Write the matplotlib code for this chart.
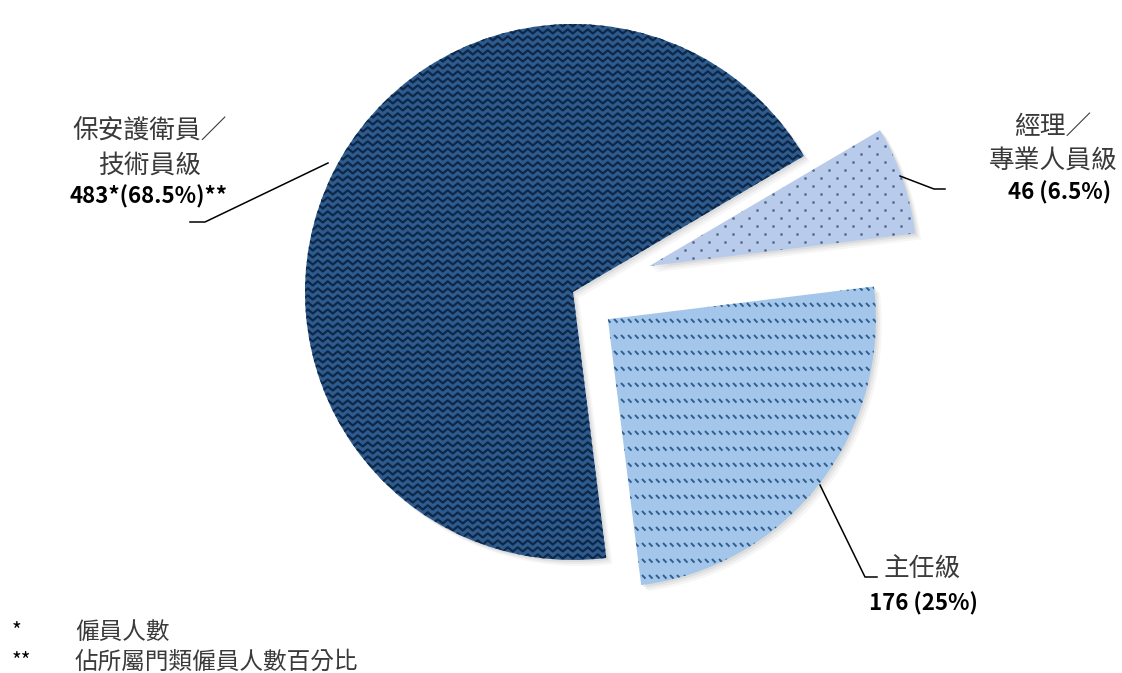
import numpy as np
import matplotlib
matplotlib.use('Agg')
from matplotlib import pyplot as plt
from matplotlib.collections import LineCollection

plt.rcParams['font.family'] = ['Noto Sans CJK TC', 'DejaVu Sans']

# data: staff by rank
categories = ['保安護衛員／\n技術員級', '主任級', '經理／\n專業人員級']
counts = [483, 176, 46]
value_labels = ['483*(68.5%)**', '176 (25%)', '46 (6.5%)']
notes_mark = ['*', '**']
notes_text = ['僱員人數', '佔所屬門類僱員人數百分比']

W, H = 1122, 673
R = 268.0            # pie radius in pixels
CX, CY = 573, 292    # pie centre in pixels (from top)


def px(x, y):
    # image pixel -> data coords
    return (x - CX) / R, (CY - y) / R


fig = plt.figure(figsize=(W / 100, H / 100), dpi=100)
ax = fig.add_axes([0, 0, 1, 1])

wedges, _ = ax.pie(counts, radius=1, startangle=30.5, counterclock=True,
                   explode=[0, 0.165, 0.30],
                   colors=['#2d5b8e', '#a3c6ea', '#b9cbea'],
                   wedgeprops=dict(linewidth=0))

# soft shadow under each slice
for w in wedges:
    for k, a in [(6, 0.05), (4, 0.07), (2, 0.09)]:
        sh = matplotlib.patches.Wedge((w.center[0] + k / R, w.center[1] - k / R),
                                      w.r, w.theta1, w.theta2,
                                      facecolor='#555555', alpha=a,
                                      linewidth=0, zorder=w.get_zorder() - 1)
        ax.add_patch(sh)

s = 1 / R
span = np.arange(-1.4, 1.4, 5 * s)

# zigzag texture on big slice
segs = []
for y0 in np.arange(-1.3, 1.3, 7 * s):
    ys = y0 + np.where(np.arange(len(span)) % 2 == 0, 2.1 * s, -2.1 * s)
    segs.append(np.column_stack([span, ys]))
lc = LineCollection(segs, colors='#0e2747', linewidths=1.6, zorder=3)
lc.set_clip_path(wedges[0])
ax.add_collection(lc)

# diagonal dashes on middle slice
dsegs = []
for y0 in np.arange(-1.6, 1.3, 16 * s):
    for x0 in np.arange(-0.5, 1.8, 7 * s):
        dsegs.append([(x0, y0 + 1.8 * s), (x0 + 3.5 * s, y0 - 1.8 * s)])
dc = LineCollection(dsegs, colors='#2f5f90', linewidths=1.4, zorder=3)
dc.set_clip_path(wedges[1])
ax.add_collection(dc)

# dots on small slice
gx, gy = [], []
for i, y0 in enumerate(np.arange(-0.5, 1.5, 8 * s)):
    off = 8 * s if i % 2 else 0
    for x0 in np.arange(0, 1.8, 16 * s):
        gx.append(x0 + off)
        gy.append(y0)
dots = ax.scatter(gx, gy, s=4, color='#5b6d96', linewidths=0, zorder=3)
dots.set_clip_path(wedges[2])

# labels and leader lines
leaders = [
    [(328, 163), (205, 222), (190, 222)],
    [(820, 485), (865, 577), (877, 577)],
    [(900, 176), (934, 189), (945, 189)],
]
for pts in leaders:
    xy = np.array([px(*p) for p in pts])
    ax.plot(xy[:, 0], xy[:, 1], color='black', lw=1.1, zorder=5)

name_pos = [(150, 149), (922, 570), (1053, 144)]
value_pos = [(149, 197), (923, 604), (1060, 193)]
for name, val, npos, vpos in zip(categories, value_labels, name_pos, value_pos):
    ax.text(*px(*npos), name, ha='center', va='center', fontsize=18.5,
            color='#3a3a3a', linespacing=1.4)
    ax.text(*px(*vpos), val, ha='center', va='center', fontsize=16,
            fontweight='bold', color='black')

for i, (m, t) in enumerate(zip(notes_mark, notes_text)):
    yy = 632 + 30 * i
    ax.text(*px(12, yy), m, ha='left', va='center', fontsize=15, color='black')
    ax.text(*px(75, yy), t, ha='left', va='center', fontsize=17, color='#3a3a3a')

ax.set_xlim(-CX / R, (W - CX) / R)
ax.set_ylim((CY - H) / R, CY / R)
ax.set_aspect('auto')
ax.axis('off')

fig.savefig('out.png', dpi=100)
